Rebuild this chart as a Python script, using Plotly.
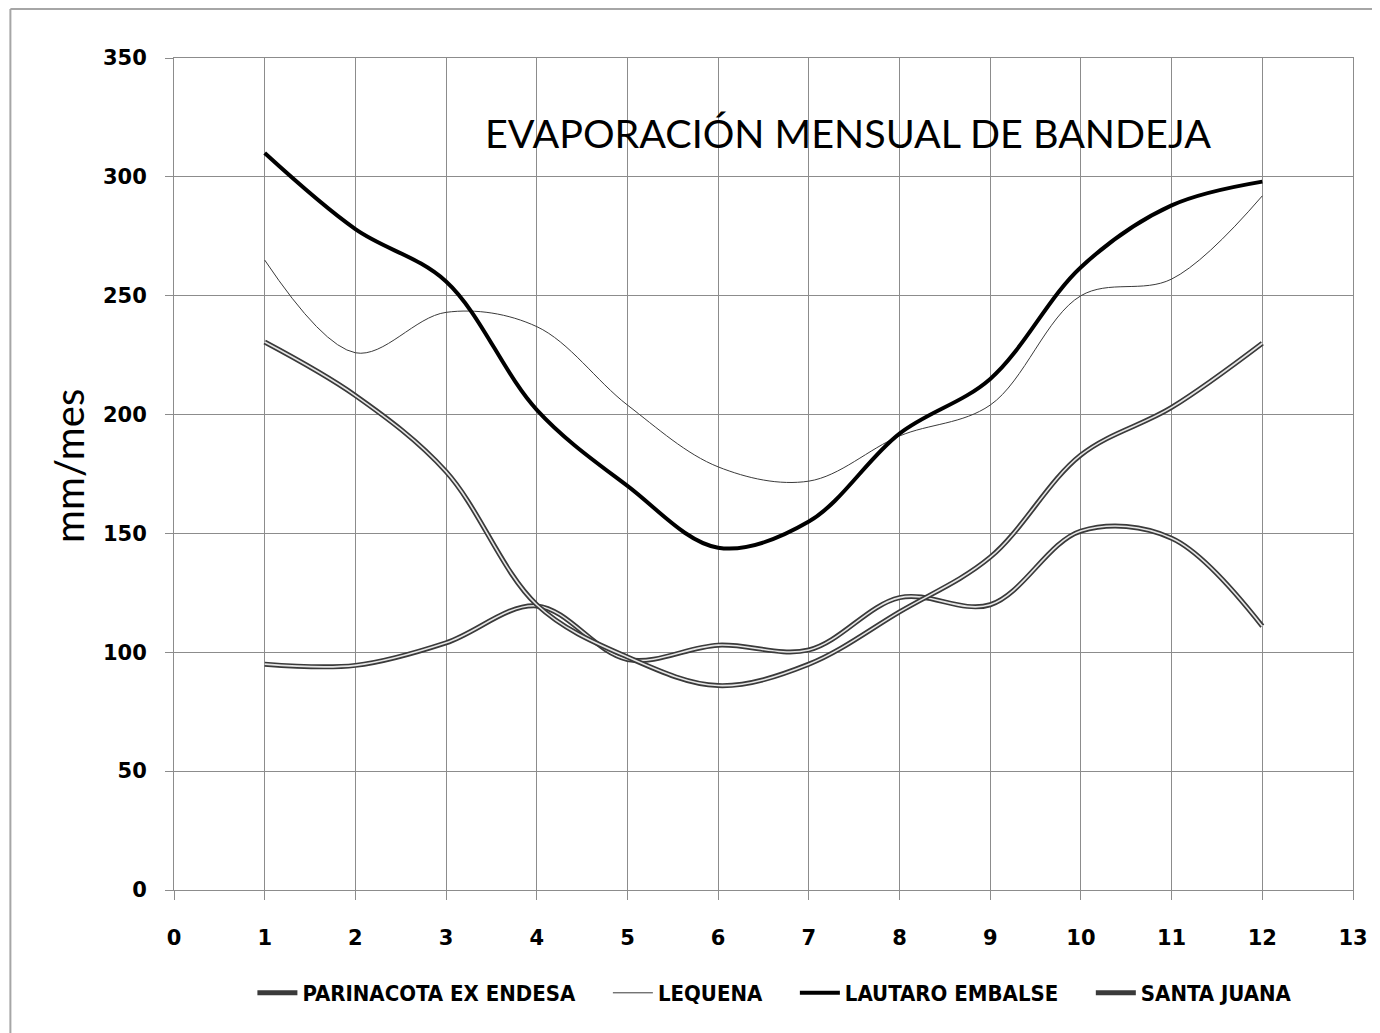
import plotly.graph_objects as go

# monthly pan evaporation (mm/mes)
months = [1, 2, 3, 4, 5, 6, 7, 8, 9, 10, 11, 12]
parinacota = [95, 94.5, 104, 119.5, 97, 103, 101, 123, 120, 151, 148, 111]
lequena = [265, 226, 243, 237, 204, 178, 172, 191, 204, 250, 257, 292]
lautaro = [310, 278, 256, 202, 170, 144, 155, 192, 215, 262, 288, 298]
santa_juana = [230.5, 208, 176, 120, 98, 86, 95, 117, 140, 183, 203, 230]

# the page adds an 8px body margin, so the figure is a bit smaller than the window
OFF = 8
W, H = 1380 - OFF, 1033 - OFF
L, R, T, B = 174 - OFF, 17, 58 - OFF, 143
pw, ph = W - L - R, H - T - B

def px_x(p):
    # screen pixel -> paper x
    return (p - OFF - L) / pw

def px_y(p):
    return (H - B - (p - OFF)) / ph

GAP = "\u00a0" * 4  # extra room between legend entries

fig = go.Figure()

def double_line(name, y, rank):
    # excel-style "double" line: dark outer stroke with a light core
    fig.add_trace(go.Scatter(x=months, y=y, name=name, mode="lines",
                             line=dict(color="#3a3a3a", width=5, shape="spline", smoothing=1),
                             legendrank=rank))
    fig.add_trace(go.Scatter(x=months, y=y, mode="lines", showlegend=False, hoverinfo="skip",
                             line=dict(color="#e6e6e6", width=1.6, shape="spline", smoothing=1)))

double_line("PARINACOTA EX ENDESA" + GAP, parinacota, 1)
fig.add_trace(go.Scatter(x=months, y=lequena, name="LEQUENA" + GAP, mode="lines",
                         line=dict(color="#3a3a3a", width=1, shape="spline", smoothing=1),
                         legendrank=2))
double_line("SANTA JUANA", santa_juana, 4)
fig.add_trace(go.Scatter(x=months, y=lautaro, name="LAUTARO EMBALSE" + GAP, mode="lines",
                         line=dict(color="black", width=4, shape="spline", smoothing=1),
                         legendrank=3))

tickfont = dict(family="DejaVu Sans", size=21, color="black", weight="bold")
grid = "#8c8c8c"

fig.update_xaxes(range=[0, 13], dtick=1, tick0=0, showgrid=True, gridcolor=grid, gridwidth=1,
                 showline=True, linecolor=grid, mirror=True, zeroline=False,
                 ticks="outside", ticklen=9, tickcolor=grid, ticklabelstandoff=20,
                 tickfont=tickfont)
fig.update_yaxes(range=[0, 350], dtick=50, tick0=0, showgrid=True, gridcolor=grid, gridwidth=1,
                 showline=True, linecolor=grid, mirror=True, zeroline=False,
                 ticks="outside", ticklen=8, tickcolor=grid, ticklabelstandoff=14,
                 tickfont=tickfont)

fig.add_annotation(text="EVAPORACIÓN MENSUAL DE BANDEJA", xref="paper", yref="paper",
                   x=px_x(854), y=px_y(133), xanchor="center", yanchor="middle",
                   showarrow=False, font=dict(family="Lato", size=39.5, color="black"))
fig.add_annotation(text="mm/mes", xref="paper", yref="paper", textangle=-90,
                   x=px_x(68), y=px_y(466), xanchor="center", yanchor="middle",
                   showarrow=False, font=dict(family="Lato", size=40, color="black"))

# outer chart-area border (only the left and top edges fall inside the picture)
fig.add_shape(type="line", xref="paper", yref="paper",
              x0=px_x(OFF + 1), x1=px_x(OFF + 1), y0=px_y(1100), y1=px_y(OFF + 1),
              line=dict(color="#a6a6a6", width=2), layer="below")
fig.add_shape(type="line", xref="paper", yref="paper",
              x0=px_x(OFF + 1), x1=px_x(1500), y0=px_y(OFF + 1), y1=px_y(OFF + 1),
              line=dict(color="#a6a6a6", width=2), layer="below")

fig.update_layout(
    width=W, height=H,
    margin=dict(l=L, r=R, t=T, b=B),
    paper_bgcolor="white", plot_bgcolor="white",
    showlegend=True,
    legend=dict(orientation="h", x=px_x(780), xanchor="center", y=px_y(993), yanchor="middle",
                font=dict(family="DejaVu Sans Condensed", size=22, color="black", weight="bold"),
                itemwidth=40, tracegroupgap=0, bgcolor="rgba(0,0,0,0)"),
)

fig.write_html("out.html")
